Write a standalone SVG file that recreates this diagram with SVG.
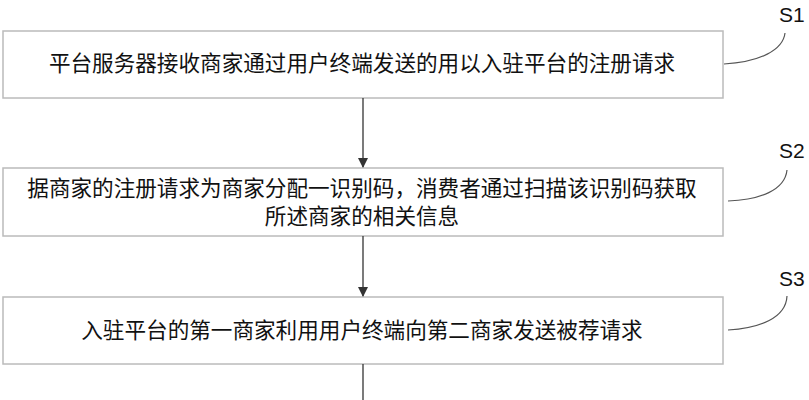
<svg xmlns="http://www.w3.org/2000/svg" width="809" height="400" viewBox="0 0 809 400">
<defs>
<marker id="ah" markerWidth="10" markerHeight="10" refX="9" refY="5" orient="auto" markerUnits="userSpaceOnUse"><path d="M0,0 L10,5 L0,10 Z" fill="#333"/></marker>
<style>
.box{fill:#fff;stroke:#bbb;stroke-width:1.5}
.t{font-family:"Noto Sans CJK SC","Liberation Serif",serif;font-size:21.6px;fill:#111;text-anchor:middle}
.l{font-family:"Liberation Sans",sans-serif;font-size:21px;fill:#111}
.c{fill:none;stroke:#555;stroke-width:1.2}
</style>
</defs>
<rect width="809" height="400" fill="#fff"/>
<g id="n1"><rect class="box" x="3" y="31" width="720" height="67"/><text class="t" x="362" y="71">平台服务器接收商家通过用户终端发送的用以入驻平台的注册请求</text></g>
<g id="n2"><rect class="box" x="3" y="168" width="720" height="68"/><text class="t" x="362" y="196">据商家的注册请求为商家分配一识别码，消费者通过扫描该识别码获取</text><text class="t" x="362" y="224">所述商家的相关信息</text></g>
<g id="n3"><rect class="box" x="3" y="297" width="720" height="67"/><text class="t" x="362" y="338">入驻平台的第一商家利用用户终端向第二商家发送被荐请求</text></g>
<g id="labels"><text class="l" x="779" y="22">S1</text><text class="l" x="779" y="158">S2</text><text class="l" x="779" y="286">S3</text>
<path class="c" d="M724,64 C760,62 783,50 785,33"/><path class="c" d="M728,201 C760,200 785,190 787,170"/><path class="c" d="M728,330 C760,328 786,318 787,296"/></g>
<g id="connectors">
<line x1="363" y1="98" x2="363" y2="167" stroke="#333" stroke-width="1.3" marker-end="url(#ah)"/>
<line x1="363" y1="236" x2="363" y2="296" stroke="#333" stroke-width="1.3" marker-end="url(#ah)"/>
<line x1="363" y1="364" x2="363" y2="400" stroke="#333" stroke-width="1.3"/>
</g>
</svg>
